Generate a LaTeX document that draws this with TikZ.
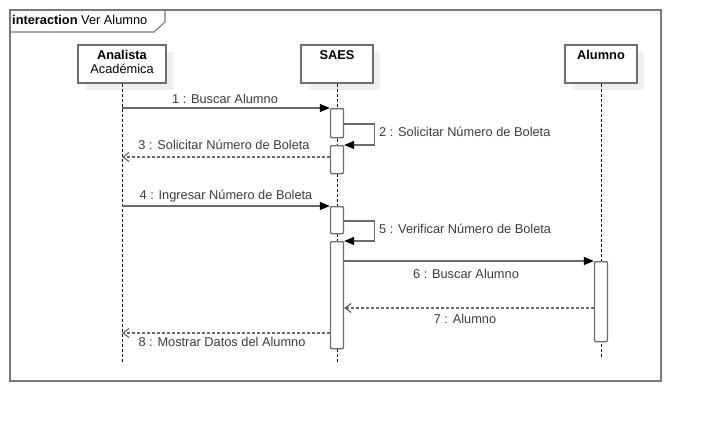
\documentclass[tikz,border=0pt]{standalone}
\usepackage{fontspec}
\setmainfont{Liberation Sans}
\usetikzlibrary{arrows.meta,shadows}

\definecolor{linegray}{HTML}{6A6A6A}
\definecolor{boxgray}{HTML}{6E6E6E}
\definecolor{framegray}{HTML}{7A7A7A}
\definecolor{textgray}{HTML}{3C3C3C}
\definecolor{shadowgray}{HTML}{EFEFEF}

\tikzset{
  lifebox/.style={draw=boxgray, line width=1.5pt, fill=white, minimum height=38pt,
    drop shadow={shadow xshift=7pt, shadow yshift=-7pt, fill=shadowgray, opacity=1}},
  actbox/.style={draw=boxgray, line width=1.3pt, fill=white, minimum width=13pt,
    inner sep=0pt, rounded corners=1pt, anchor=north},
  lifeline/.style={dash pattern=on 3pt off 2pt, line width=0.8pt},
  call/.style={draw=linegray, line width=1.2pt, -{Triangle[length=10pt,width=8pt,black]}},
  reply/.style={draw=linegray, line width=1.2pt, dash pattern=on 3pt off 2pt,
    -{Straight Barb[length=6pt,width=9pt]}},
  msglabel/.style={text=textgray, font=\fontsize{12.8}{14}\selectfont, inner sep=0pt}
}

\begin{document}
\begin{tikzpicture}[x=1pt, y=-1pt]
	\useasboundingbox (0, 0) rectangle (701, 421);

	% frame
	\draw[draw=framegray, line width=1.3pt] (10, 10) rectangle (661, 381);
	\draw[draw=framegray, line width=1.1pt] (10, 32) -- (154, 32) -- (165, 22) -- (165, 10);
	\node[msglabel, text=black, anchor=west] (title) at (12, 20) {\textbf{interaction} Ver Alumno};

	% participants
	\node[lifebox, minimum width=88pt] (analista) at (122, 64) {};
	\node[lifebox, minimum width=72pt] (saes) at (337, 64) {};
	\node[lifebox, minimum width=72pt] (alumno) at (601, 64) {};

	\node[msglabel, text=black, anchor=north, align=center] at ([yshift=-6pt]analista.north) {\textbf{Analista}\\Académica};
	\node[msglabel, text=black, anchor=north] at ([yshift=-6pt]saes.north) {\textbf{SAES}};
	\node[msglabel, text=black, anchor=north] at ([yshift=-6pt]alumno.north) {\textbf{Alumno}};

	% lifelines
	\draw[lifeline] (analista.south) -- (122, 363);
	\draw[lifeline] (saes.south) -- (337, 363);
	\draw[lifeline] (alumno.south) -- (601, 357);

	% activations
	\node[actbox, minimum height=29pt] (s1) at (337, 108) {};
	\node[actbox, minimum height=28pt] (s2) at (337, 145) {};
	\node[actbox, minimum height=27pt] (s3) at (337, 206) {};
	\node[actbox, minimum height=107pt] (s4) at (337, 241) {};
	\node[actbox, minimum height=80pt] (m1) at (601, 261) {};

	% messages
	\coordinate (a1) at (122, 108);
	\coordinate (a3) at (122, 157);
	\coordinate (a4) at (122, 206);
	\coordinate (a8) at (122, 333);
	\coordinate (r7) at (601, 308);

	\draw[call] (a1) -- (s1.north west);
	\draw[call] ([yshift=-16pt]s1.north east) -- ++(30, 0) |- (s2.north east);
	\draw[reply] (s2.west |- a3) -- (a3);
	\draw[call] (a4) -- (s3.north west);
	\draw[call] ([yshift=-15pt]s3.north east) -- ++(30, 0) |- (s4.north east);
	\draw[call] (s4.east |- m1.north) -- (m1.north west);
	\draw[reply] (m1.west |- r7) -- (s4.east |- r7);
	\draw[reply] (s4.west |- a8) -- (a8);

	% labels
	\node[msglabel] at (225, 99) {1 : Buscar Alumno};
	\node[msglabel, anchor=west] at (379, 132) {2 : Solicitar Número de Boleta};
	\node[msglabel] at (224, 145) {3 : Solicitar Número de Boleta};
	\node[msglabel] at (226, 196) {4 : Ingresar Número de Boleta};
	\node[msglabel, anchor=west] at (379, 229) {5 : Verificar Número de Boleta};
	\node[msglabel] at (466, 274) {6 : Buscar Alumno};
	\node[msglabel] at (465, 319) {7 : Alumno};
	\node[msglabel] at (222, 342) {8 : Mostrar Datos del Alumno};
\end{tikzpicture}
\end{document}
